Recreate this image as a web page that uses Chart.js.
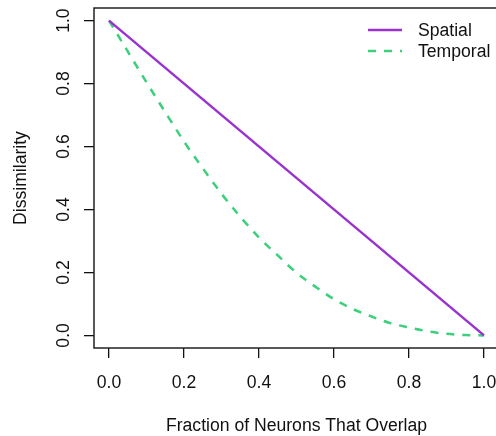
<!DOCTYPE html>
<html>
<head>
<meta charset="utf-8">
<script src="https://cdn.jsdelivr.net/npm/chart.js@4.4.1/dist/chart.umd.min.js"></script>
<style>
  html, body { margin: 0; padding: 0; background: #fff; }
  #wrap { width: 496px; height: 436px; overflow: hidden; position: relative; }
  #chart { position: absolute; left: 0; top: 0; }
</style>
</head>
<body>
<div id="wrap"><canvas id="chart" width="510" height="436"></canvas></div>
<script>
// values
const overlap = [0, 0.05, 0.1, 0.15, 0.2, 0.25, 0.3, 0.35, 0.4, 0.45, 0.5,
                 0.55, 0.6, 0.65, 0.7, 0.75, 0.8, 0.85, 0.9, 0.95, 1];
const spatialX = [0, 1];
const spatialY = [1, 0];
const temporalY = [1.00, 0.902, 0.804, 0.709, 0.616, 0.531, 0.450, 0.377, 0.311, 0.254, 0.199,
                   0.155, 0.115, 0.084, 0.060, 0.039, 0.025, 0.013, 0.005, 0.001, 0];
const xTicks = [0, 0.2, 0.4, 0.6, 0.8, 1.0];
const yTicks = [0, 0.2, 0.4, 0.6, 0.8, 1.0];
const seriesNames = ['Spatial', 'Temporal'];

const FONT = '17.6px "Liberation Sans", Arial, Helvetica, sans-serif';
const PURPLE = '#9A32CF';
const GREEN = '#3CCF7C';

// draws the R-style box, rotated y labels, titles and legend
const rStyle = {
  id: 'rStyle',
  afterDraw(chart) {
    const ctx = chart.ctx;
    const a = chart.chartArea;
    const xs = chart.scales.x, ys = chart.scales.y;
    ctx.save();
    ctx.strokeStyle = '#222';
    ctx.lineWidth = 1.5;
    ctx.strokeRect(a.left, a.top, a.right - a.left, a.bottom - a.top);

    ctx.fillStyle = '#111';
    ctx.font = FONT;
    // x tick labels
    ctx.textAlign = 'center';
    ctx.textBaseline = 'alphabetic';
    xTicks.forEach(v => {
      ctx.fillText(v.toFixed(1), xs.getPixelForValue(v), 387.5);
    });
    // x title
    ctx.fillText('Fraction of Neurons That Overlap', (a.left + a.right) / 2, 431);
    // y tick labels (rotated)
    yTicks.forEach(v => {
      ctx.save();
      ctx.translate(68.5, ys.getPixelForValue(v));
      ctx.rotate(-Math.PI / 2);
      ctx.fillText(v.toFixed(1), 0, 0);
      ctx.restore();
    });
    // y title
    ctx.save();
    ctx.translate(25.5, (a.top + a.bottom) / 2);
    ctx.rotate(-Math.PI / 2);
    ctx.fillText('Dissimilarity', 0, 0);
    ctx.restore();

    // legend
    const rows = [30, 51];
    chart.data.datasets.forEach((ds, i) => {
      ctx.save();
      ctx.strokeStyle = ds.borderColor;
      ctx.lineWidth = ds.borderWidth;
      ctx.setLineDash(ds.borderDash || []);
      ctx.beginPath();
      ctx.moveTo(368, rows[i]);
      ctx.lineTo(402, rows[i]);
      ctx.stroke();
      ctx.restore();
      ctx.textAlign = 'left';
      ctx.textBaseline = 'middle';
      ctx.fillText(ds.label, 418, rows[i] + 1);
    });
    ctx.restore();
  }
};

new Chart(document.getElementById('chart'), {
  type: 'scatter',
  data: {
    datasets: [
      {
        label: seriesNames[0],
        data: spatialX.map((x, i) => ({ x: x, y: spatialY[i] })),
        showLine: true,
        borderColor: PURPLE,
        borderWidth: 2.5,
        pointRadius: 0,
        tension: 0
      },
      {
        label: seriesNames[1],
        data: overlap.map((x, i) => ({ x: x, y: temporalY[i] })),
        showLine: true,
        borderColor: GREEN,
        borderWidth: 2.5,
        borderDash: [8, 8],
        pointRadius: 0,
        cubicInterpolationMode: 'monotone'
      }
    ]
  },
  options: {
    responsive: false,
    devicePixelRatio: 1,
    animation: false,
    layout: { padding: { top: 8, right: 11, left: 0, bottom: 0 } },
    plugins: { legend: { display: false }, tooltip: { enabled: false } },
    scales: {
      x: {
        type: 'linear',
        min: -0.04, max: 1.04,
        afterBuildTicks: s => { s.ticks = xTicks.map(v => ({ value: v })); },
        afterFit: s => { s.height = 88; },
        ticks: { callback: () => '', padding: 0 },
        grid: { display: true, drawOnChartArea: false, drawTicks: true, tickLength: 10, color: '#111', lineWidth: 1.3 },
        border: { display: false }
      },
      y: {
        type: 'linear',
        min: -0.04, max: 1.04,
        afterBuildTicks: s => { s.ticks = yTicks.map(v => ({ value: v })); },
        afterFit: s => { s.width = 94; },
        ticks: { callback: () => '', padding: 0 },
        grid: { display: true, drawOnChartArea: false, drawTicks: true, tickLength: 10, color: '#111', lineWidth: 1.3 },
        border: { display: false }
      }
    }
  },
  plugins: [rStyle]
});
</script>
</body>
</html>
